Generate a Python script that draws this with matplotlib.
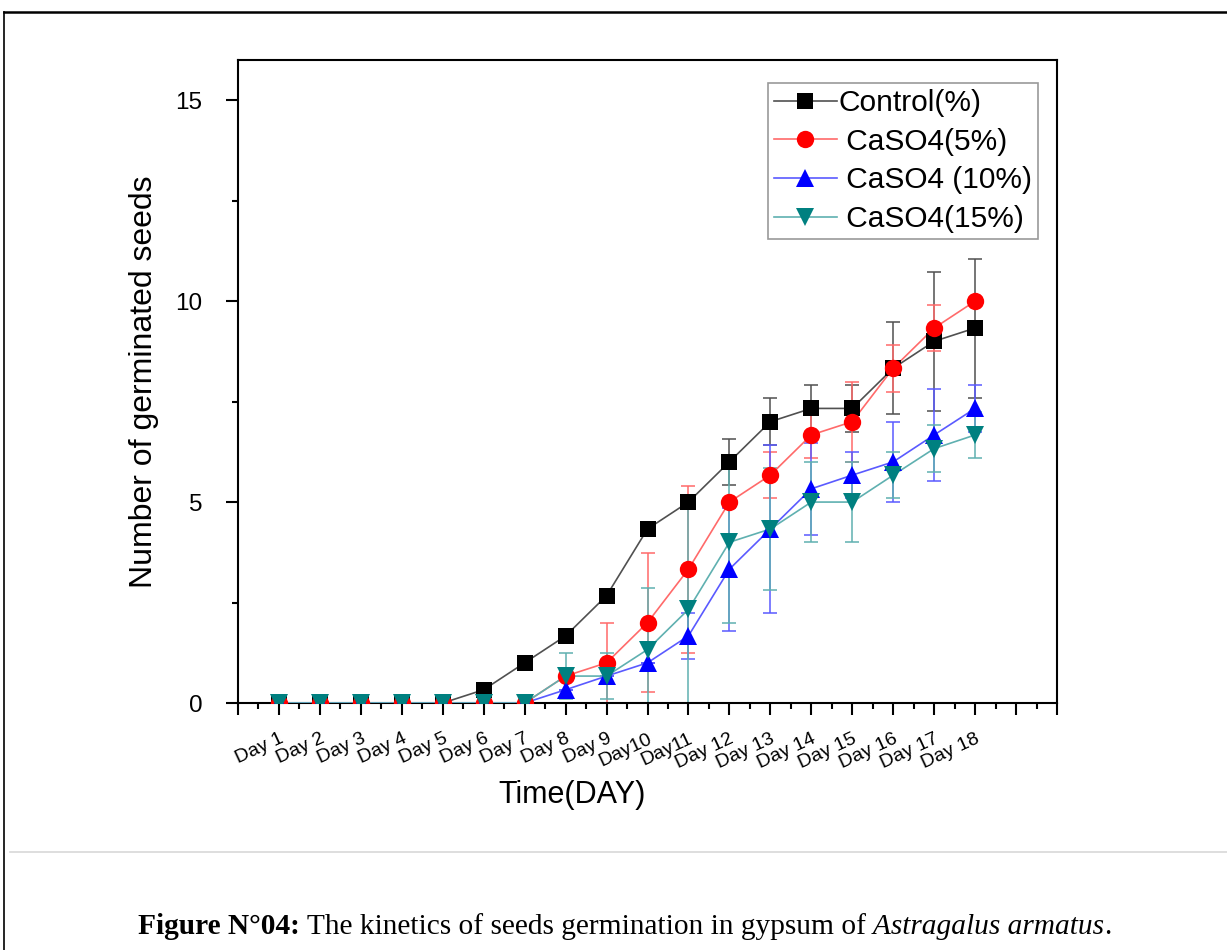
import matplotlib
matplotlib.use("Agg")
import matplotlib.pyplot as plt
from matplotlib.lines import Line2D
from matplotlib.ticker import MultipleLocator

# germination counts (mean and error bar half-length)
days = ["Day 1", "Day 2", "Day 3", "Day 4", "Day 5", "Day 6", "Day 7", "Day 8", "Day 9",
        "Day10", "Day11", "Day 12", "Day 13", "Day 14", "Day 15", "Day 16", "Day 17", "Day 18"]
control = [0, 0, 0, 0, 0, 0.33, 1, 1.67, 2.67, 4.33, 5, 6, 7, 7.33, 7.33, 8.33, 9, 9.33]
control_sd = [0, 0, 0, 0, 0, 0, 0, 0, 0, 0, 0, 0.58, 0.58, 0.58, 0.58, 1.15, 1.73, 1.73]
caso4_5 = [0, 0, 0, 0, 0, 0, 0, 0.67, 1, 2, 3.33, 5, 5.67, 6.67, 7, 8.33, 9.33, 10]
caso4_5_sd = [0, 0, 0, 0, 0, 0, 0, 0, 1, 1.73, 2.08, 0, 0.58, 0.58, 1, 0.58, 0.58, 0]
caso4_10 = [0, 0, 0, 0, 0, 0, 0, 0.33, 0.67, 1, 1.67, 3.33, 4.33, 5.33, 5.67, 6, 6.67, 7.33]
caso4_10_sd = [0, 0, 0, 0, 0, 0, 0, 0, 0, 0, 0.58, 1.53, 2.08, 1.15, 0.58, 1, 1.15, 0.58]
caso4_15 = [0, 0, 0, 0, 0, 0, 0, 0.67, 0.67, 1.33, 2.33, 4, 4.33, 5, 5, 5.67, 6.33, 6.67]
caso4_15_sd = [0, 0, 0, 0, 0, 0, 0, 0.58, 0.58, 1.53, 2.52, 2, 1.53, 1, 1, 0.58, 0.58, 0.58]

labels = ["Control(%)", " CaSO4(5%)", " CaSO4 (10%)", " CaSO4(15%)"]

plt.rcParams["font.family"] = ["Liberation Sans", "DejaVu Sans"]

fig = plt.figure(figsize=(12.27, 9.5), dpi=100)
ax = fig.add_axes([238 / 1227, 1 - 703 / 950, (1057 - 238) / 1227, (703 - 60) / 950])

x = list(range(1, len(days) + 1))

series = [
    (control, control_sd, "s", "black", "#505050", 11.5),
    (caso4_5, caso4_5_sd, "o", "red", "#ff6a6a", 12.5),
    (caso4_10, caso4_10_sd, "^", "blue", "#5a5aff", 13),
    (caso4_15, caso4_15_sd, "v", "#008080", "#5fb0b0", 13),
]

for vals, sd, mk, col, lcol, ms in series:
    ax.errorbar(x, vals, yerr=sd, fmt="none", ecolor=lcol, elinewidth=1.1,
                capsize=5, capthick=1.1, zorder=2)
    ax.plot(x, vals, color=lcol, lw=1.2, zorder=3)
    ax.plot(x, vals, linestyle="none", marker=mk, color=col, markersize=ms,
            markeredgewidth=0, zorder=4)

ax.set_xlim(0, 20)
ax.set_ylim(0, 16)
ax.set_xticks(range(0, 21))
ax.set_xticklabels([""] + days + ["", ""], rotation=25, ha="right", va="top",
                   rotation_mode="anchor", fontsize=14)
ax.xaxis.set_minor_locator(MultipleLocator(0.5))
ax.set_yticks([0, 5, 10, 15])
ax.yaxis.set_minor_locator(MultipleLocator(2.5))
ax.tick_params(axis="both", which="major", direction="out", length=8.6, width=1.5)
ax.tick_params(axis="both", which="minor", direction="out", length=4.3, width=1.5)
ax.tick_params(axis="x", which="major", pad=11)
ax.tick_params(axis="y", which="major", labelsize=17.5, pad=17)
for sp in ax.spines.values():
    sp.set_linewidth(1.5)

ax.set_xlabel("Time(DAY)", fontsize=22)
ax.xaxis.set_label_coords(0.408, -0.12)
ax.set_ylabel("Number of germinated seeds", fontsize=23)
ax.yaxis.set_label_coords(-0.097, 0.5)

handles = []
for vals, sd, mk, col, lcol, ms in series:
    handles.append(Line2D([], [], color=lcol, lw=1.2, marker=mk, markerfacecolor=col,
                          markeredgewidth=0, markersize=ms))
leg = fig.legend(handles, labels, loc="upper right",
                 bbox_to_anchor=(1038 / 1227, 1 - 83 / 950), fontsize=21.5,
                 frameon=True, fancybox=False, handlelength=2.1, handletextpad=0.05,
                 labelspacing=0.36, borderpad=0.2, borderaxespad=0, numpoints=1)
leg.get_frame().set_edgecolor("#808080")
leg.get_frame().set_linewidth(1.2)

# page decorations: border lines and separator
fig.add_artist(Line2D([4 / 1227, 1], [1 - 12 / 950, 1 - 12 / 950], color="black", lw=1.8))
fig.add_artist(Line2D([4 / 1227, 4 / 1227], [0, 1 - 12 / 950], color="black", lw=1.2))
fig.add_artist(Line2D([10 / 1227, 1], [1 - 852 / 950, 1 - 852 / 950], color="#d8d8d8", lw=1.2))

# caption with mixed font styles
renderer = fig.canvas.get_renderer()
cx = 138 / 1227
cy = 1 - 934 / 950
parts = [
    ("Figure N°04:", dict(fontweight="bold")),
    (" The kinetics of seeds germination in gypsum of", dict()),
    (" Astragalus armatus", dict(fontstyle="italic")),
    (".", dict()),
]
for txt, kw in parts:
    t = fig.text(cx, cy, txt, fontsize=21.2, family="Liberation Serif", va="baseline", **kw)
    bb = t.get_window_extent(renderer=renderer)
    cx += bb.width / fig.bbox.width

fig.savefig("out.png", dpi=100)
